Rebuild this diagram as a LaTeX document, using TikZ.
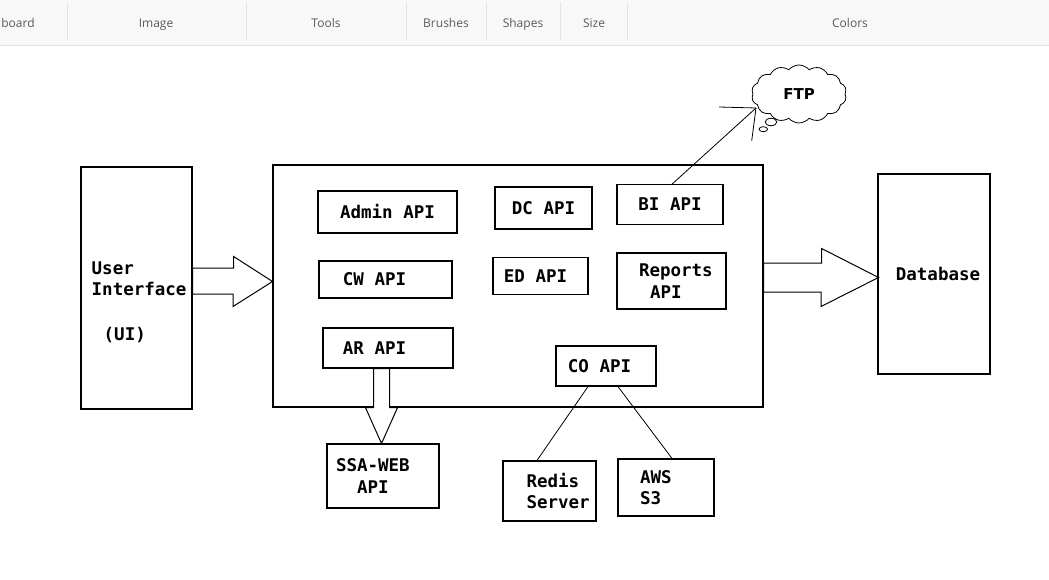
\documentclass[tikz,border=0pt]{standalone}
\usepackage{fontspec}
\setmonofont{DejaVu Sans Mono}
\newfontfamily\barfont{Open Sans}
\newfontfamily\cloudfont{DejaVu Sans}
\usetikzlibrary{calc,shapes.symbols}

\definecolor{barback}{HTML}{F8F8F8}
\definecolor{barline}{HTML}{E4E4E4}
\definecolor{bartext}{HTML}{5A5A5A}

\newcommand{\apifont}{\ttfamily\bfseries\fontsize{17.5}{21.5}\selectfont}

\tikzset{
	apibox/.style={draw, line width=1.2pt, inner sep=0pt, font=\apifont},
	fatarrow/.style={draw, line width=1pt, fill=white, line join=miter},
	thinline/.style={line width=0.8pt},
	barlabel/.style={font=\barfont\fontsize{12}{14}\selectfont, text=bartext, anchor=base}
}

\begin{document}
\begin{tikzpicture}[x=1pt,y=-1pt]
	\useasboundingbox (0,0) rectangle (1049,580);
	% toolbar strip
	\fill[barback] (0,0) rectangle (1049,45);
	\draw[barline] (0,45) -- (1049,45);
	\foreach \sx in {67,246,406,486,560,627}
		\draw[barline] (\sx,2) -- (\sx,40);
	\foreach \lx/\lbl in {18/board,156/Image,326/Tools,446/Brushes,523/Shapes,594/Size,850/Colors}
		\node[barlabel] (bar\lbl) at (\lx,27.5) {\lbl};

	% boxes
	\node[apibox, minimum width=111, minimum height=242] (ui) at (136.5,288) {};
	\node[font=\apifont, align=left, inner sep=0pt, anchor=north west] (uitext) at (91.5,261.5) {User\\Interface\\[23pt]\hspace*{12pt}(UI)};
	\node[apibox, minimum width=490, minimum height=242] (main) at (518,286) {};
	\node[apibox, minimum width=112, minimum height=200] (db) at (934,274) {\hspace*{8pt}Database};

	\node[apibox, minimum width=139, minimum height=42] (admin) at (387.5,212) {Admin API};
	\node[apibox, minimum width=97, minimum height=42] (dc) at (543.5,208) {DC API};
	\node[apibox, minimum width=106, minimum height=39.5] (bi) at (670,204.5) {BI API};
	\node[apibox, minimum width=133, minimum height=37] (cw) at (385.5,279.5) {CW API\hspace*{22pt}};
	\node[apibox, minimum width=95, minimum height=37.5] (ed) at (540.5,276) {ED API\hspace*{10pt}};
	\node[apibox, minimum width=109, minimum height=56, text width=65, align=left] (reports) at (671.5,281) {Reports\\\hspace*{11pt}API};
	\node[apibox, minimum width=130, minimum height=40] (ar) at (388,348) {AR API\hspace*{27pt}};
	\node[apibox, minimum width=100, minimum height=40] (co) at (606,366) {CO API\hspace*{13pt}};
	\node[apibox, minimum width=112, minimum height=64, text width=94, align=left] (ssa) at (383,476) {SSA-WEB\\\hspace*{21pt}API};
	\node[apibox, minimum width=93, minimum height=60, text width=46, align=left] (redis) at (549.5,491) {Redis\\Server};
	\node[apibox, minimum width=96, minimum height=57, text width=52, align=left] (aws) at (666,487.5) {AWS\\S3};

	\node[cloud, draw, thinline, cloud puffs=14, cloud puff arc=100, cloud ignores aspect, minimum width=95, minimum height=58, inner sep=0pt, font=\cloudfont\bfseries\fontsize{15}{18}\selectfont] (ftp) at (799,94) {FTP};
	\draw[thinline] (771,122) ellipse (5.8 and 3.7);
	\draw[thinline] (763.3,129.2) ellipse (4.3 and 2.5);

	% block arrows
	\coordinate (uitip) at (272.5,281.5);
	\draw[fatarrow] ($(ui.east|-uitip)+(0,-13.5)$) -- ++(41,0) -- ++(0,-11.5) -- (uitip) -- ($(uitip)+(-39.5,25)$) -- ++(0,-12.5) -- ($(ui.east|-uitip)+(0,12.5)$) -- cycle;
	\coordinate (dbtip) at (878.5,277.5);
	\draw[fatarrow] ($(main.east|-dbtip)+(0,-14.5)$) -- ++(58,0) -- ++(0,-14.5) -- (dbtip) -- ($(dbtip)+(-57.5,29)$) -- ++(0,-14.5) -- ($(main.east|-dbtip)+(0,14.5)$) -- cycle;
	\coordinate (artip) at (381.5,443.5);
	\draw[fatarrow] ($(ar.south-|artip)+(-8,0)$) -- ($(main.south-|artip)+(-8,0)$) -- ++(-8,0) -- (artip) -- ($(main.south-|artip)+(16,0)$) -- ++(-8,0) -- ($(ar.south-|artip)+(8,0)$) -- cycle;

	% lines
	\draw[thinline] ([xshift=-18pt]co.south) -- ([xshift=-12.5pt]redis.north);
	\draw[thinline] ([xshift=12pt]co.south) -- ([xshift=6pt]aws.north);
	\coordinate (ftptip) at (756,108);
	\draw[thinline] ([xshift=2pt]bi.north) -- (ftptip);
	\draw[thinline] (ftptip) -- ++(-37,-1);
	\draw[thinline] (ftptip) -- ++(-4.3,32.7);
\end{tikzpicture}
\end{document}
